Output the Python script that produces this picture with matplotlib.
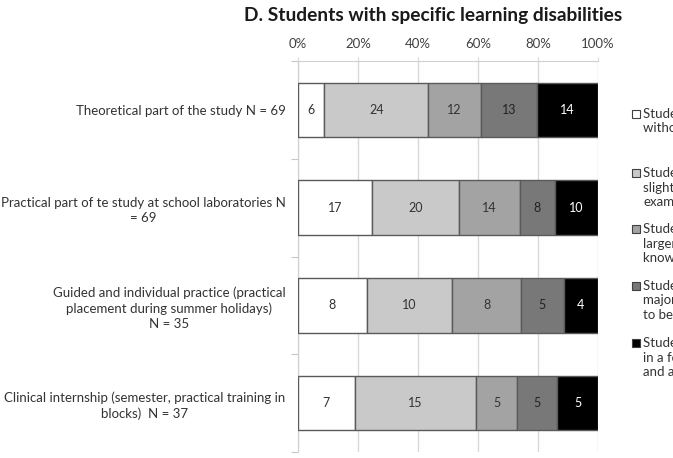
"""
Stacked horizontal bar chart: students with specific learning disabilities.
"""

import matplotlib.pyplot as plt
import numpy as np

plt.rcParams["font.family"] = ["Lato", "DejaVu Sans"]

categories = [
    "Theoretical part of the study N = 69",
    "Practical part of te study at school laboratories N\n= 69",
    "Guided and individual practice (practical\nplacement during summer holidays)\nN = 35",
    "Clinical internship (semester, practical training in\nblocks)  N = 37",
]
counts = [
    [6, 24, 12, 13, 14],
    [17, 20, 14, 8, 10],
    [8, 10, 8, 5, 4],
    [7, 15, 5, 5, 5],
]
legend_lines = [
    ["Students can study", "without limitations"],
    ["Students can study with", "slight adjustments (e.g.", "examinations)"],
    ["Students can study with", "larger adjustments of", "knowledge testing"],
    ["Students can study with", "major adjustments that need", "to be agreed"],
    ["Students can study only", "in a form of individual plan", "and assistance"],
]
colors = ["#ffffff", "#c9c9c9", "#a3a3a3", "#787878", "#000000"]
text_colors = ["#333333", "#333333", "#333333", "#222222", "#ffffff"]
xticks = [0, 20, 40, 60, 80, 100]


def main():
    fig = plt.figure(figsize=(6.73, 4.58), dpi=100)
    ax = fig.add_axes([298 / 673, 1 - 452 / 458, 300 / 673, 391 / 458])

    data = np.array(counts, dtype=float)
    totals = data.sum(axis=1, keepdims=True)
    pct = data / totals * 100
    lefts = np.cumsum(pct, axis=1) - pct
    y = np.arange(len(categories))

    for j in range(data.shape[1]):
        ax.barh(y, pct[:, j], left=lefts[:, j], height=0.56,
                color=colors[j], edgecolor="#5a5a5a", linewidth=1.0, zorder=3)
        for i in range(len(categories)):
            ax.text(lefts[i, j] + pct[i, j] / 2, y[i], str(counts[i][j]),
                    ha="center", va="center", fontsize=9,
                    color=text_colors[j], zorder=4)

    ax.set_xlim(0, 100)
    ax.set_ylim(3.5, -0.5)
    ax.xaxis.tick_top()
    ax.set_xticks(xticks)
    ax.set_xticklabels([f"{t}%" for t in xticks], fontsize=9.5, color="#404040")
    ax.tick_params(axis="x", length=3, color="#d9d9d9", pad=5)
    ax.grid(axis="x", color="#d9d9d9", linewidth=1, zorder=0)

    ax.set_yticks(np.arange(-0.5, len(categories) + 0.5, 1))
    ax.set_yticklabels([])
    ax.tick_params(axis="y", length=5, color="#c8c8c8")
    ax.set_yticks(y, minor=True)
    ax.set_yticklabels(categories, minor=True, fontsize=9.5, color="#333333",
                       multialignment="center", linespacing=1.3)
    ax.tick_params(axis="y", which="minor", length=0, pad=9)

    for side in ["right", "bottom"]:
        ax.spines[side].set_visible(False)
    for side in ["left", "top"]:
        ax.spines[side].set_color("#d0d0d0")

    fig.text(433 / 673, 1 - 15 / 458, "D. Students with specific learning disabilities",
             ha="center", va="center", fontsize=13.8, fontweight="bold",
             color="#1a1a1a")

    # legend drawn by hand, it runs past the right edge of the picture
    first_line_y = [114, 173, 229, 286, 343]
    for k, lines in enumerate(legend_lines):
        y0 = first_line_y[k]
        fig.patches.append(plt.Rectangle(
            (632 / 673, 1 - (y0 + 4) / 458), 8 / 673, 8 / 458,
            transform=fig.transFigure, facecolor=colors[k],
            edgecolor="#404040", linewidth=0.8))
        for n, line in enumerate(lines):
            fig.text(643 / 673, 1 - (y0 + n * 14.5) / 458, line,
                     ha="left", va="center", fontsize=9.5, color="#333333")

    fig.savefig("out.png", dpi=100)


if __name__ == "__main__":
    main()
